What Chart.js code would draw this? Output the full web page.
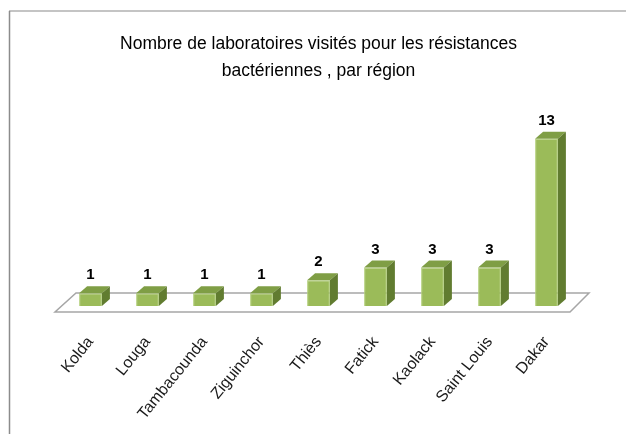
<!DOCTYPE html>
<html>
<head>
<meta charset="utf-8">
<script src="https://cdn.jsdelivr.net/npm/chart.js@4/dist/chart.umd.min.js"></script>
<style>
  html, body { margin: 0; padding: 0; background: #fff; }
  #wrap { width: 626px; height: 434px; }
</style>
</head>
<body>
<div id="wrap"><canvas id="chart" width="626" height="434"></canvas></div>
<script>
// données
const regions = ["Kolda", "Louga", "Tambacounda", "Ziguinchor", "Thiès", "Fatick", "Kaolack", "Saint Louis", "Dakar"];
const labos = [1, 1, 1, 1, 2, 3, 3, 3, 13];
const titre = ["Nombre de laboratoires visités pour les résistances", "bactériennes , par région"];

const FONT = "'Liberation Sans', Arial, sans-serif";
const DEPTH_X = 8, DEPTH_Y = 7;

// cadre gris (haut + gauche)
const frame = {
  id: "frame",
  beforeDraw(chart) {
    const ctx = chart.ctx;
    ctx.save();
    ctx.fillStyle = "#fff";
    ctx.fillRect(0, 0, chart.width, chart.height);
    ctx.strokeStyle = "#c4c4c4";
    ctx.lineWidth = 2;
    ctx.beginPath();
    ctx.moveTo(9, 11);
    ctx.lineTo(chart.width, 11);
    ctx.stroke();
    ctx.strokeStyle = "#8c8c8c";
    ctx.lineWidth = 1.5;
    ctx.beginPath();
    ctx.moveTo(9.5, 11);
    ctx.lineTo(9.5, chart.height);
    ctx.stroke();
    ctx.restore();
  },
};

// plancher 3D + faces des barres + étiquettes
const bars3d = {
  id: "bars3d",
  beforeDatasetsDraw(chart) {
    const { ctx, chartArea: a, scales } = chart;
    const base = scales.y.getPixelForValue(0);
    ctx.save();
    ctx.beginPath();
    ctx.moveTo(a.left - 7, base + 6);
    ctx.lineTo(a.right - 5, base + 6);
    ctx.lineTo(a.right + 14, base - 13);
    ctx.lineTo(a.left + 14, base - 13);
    ctx.closePath();
    ctx.fillStyle = "#fff";
    ctx.fill();
    ctx.strokeStyle = "#a6a6a6";
    ctx.lineWidth = 1.5;
    ctx.stroke();
    ctx.restore();
  },
  afterDatasetsDraw(chart) {
    const ctx = chart.ctx;
    const meta = chart.getDatasetMeta(0);
    ctx.save();
    meta.data.forEach((bar, i) => {
      const { x, y, base, width } = bar.getProps(["x", "y", "base", "width"], true);
      const l = x - width / 2, r = x + width / 2;
      // dessus
      ctx.beginPath();
      ctx.moveTo(l, y);
      ctx.lineTo(r, y);
      ctx.lineTo(r + DEPTH_X, y - DEPTH_Y);
      ctx.lineTo(l + DEPTH_X, y - DEPTH_Y);
      ctx.closePath();
      ctx.fillStyle = "#7f9e45";
      ctx.fill();
      // côté
      ctx.beginPath();
      ctx.moveTo(r, y);
      ctx.lineTo(r + DEPTH_X, y - DEPTH_Y);
      ctx.lineTo(r + DEPTH_X, base - DEPTH_Y);
      ctx.lineTo(r, base);
      ctx.closePath();
      ctx.fillStyle = "#617c30";
      ctx.fill();
      // valeur
      ctx.fillStyle = "#000";
      ctx.font = "bold 15px " + FONT;
      ctx.textAlign = "center";
      ctx.textBaseline = "middle";
      ctx.fillText(String(labos[i]), x, y - 18);
    });
    ctx.restore();
  },
};

new Chart(document.getElementById("chart"), {
  type: "bar",
  data: {
    labels: regions,
    datasets: [{
      data: labos,
      backgroundColor: "#9bbb59",
      borderColor: "#b3cf7a",
      borderWidth: 1,
      categoryPercentage: 1,
      barPercentage: 0.4,
    }],
  },
  options: {
    responsive: false,
    animation: false,
    layout: { padding: { left: 62, right: 51, top: 0, bottom: 0 } },
    plugins: {
      legend: { display: false },
      tooltip: { enabled: false },
      title: {
        display: true,
        text: titre,
        color: "#000",
        font: { family: FONT, size: 17.5, weight: "normal", lineHeight: 1.543 },
        padding: { top: 31, bottom: 41 },
      },
    },
    scales: {
      x: {
        grid: { display: false },
        border: { display: false },
        ticks: {
          color: "#1a1a1a",
          font: { family: FONT, size: 16 },
          minRotation: 51,
          maxRotation: 51,
          padding: 19,
          autoSkip: false,
        },
        afterFit(scale) { scale.height = 128; },
      },
      y: {
        display: false,
        min: 0,
        max: 14,
      },
    },
  },
  plugins: [frame, bars3d],
});
</script>
</body>
</html>
